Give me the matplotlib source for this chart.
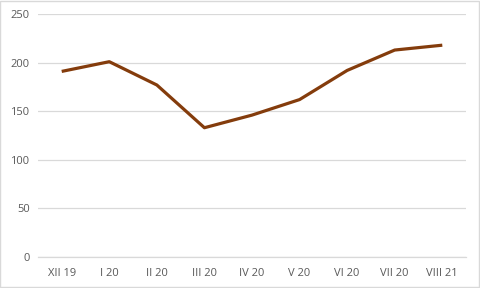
import matplotlib
matplotlib.use("Agg")
import matplotlib.pyplot as plt
from matplotlib.patches import Rectangle

# months and values
months = ["XII 19", "I 20", "II 20", "III 20", "IV 20", "V 20", "VI 20", "VII 20", "VIII 21"]
values = [191, 201, 177, 133, 146, 162, 192, 213, 218]
yticks = [0, 50, 100, 150, 200, 250]

plt.rcParams['font.family'] = ['Open Sans', 'DejaVu Sans']

fig = plt.figure(figsize=(4.8, 2.88), dpi=100)
ax = fig.add_axes([0.079, 0.108, 0.892, 0.843])

x = list(range(len(months)))
ax.plot(x, values, color="#843C0C", linewidth=2.3, solid_capstyle="butt", zorder=3)

ax.set_xlim(-0.5, len(months) - 0.5)
ax.set_ylim(0, 250)
ax.set_yticks(yticks)
ax.set_xticks(x)
ax.set_xticklabels(months)
ax.grid(axis="y", color="#d9d9d9", linewidth=0.9)
ax.set_axisbelow(True)

for s in ["top", "right", "left"]:
    ax.spines[s].set_visible(False)
ax.spines["bottom"].set_color("#d9d9d9")
ax.spines["bottom"].set_linewidth(0.9)
ax.tick_params(length=0, labelsize=8, labelcolor="#595959")
ax.tick_params(axis="x", pad=8)
ax.tick_params(axis="y", pad=6)

# light border around the whole chart
fig.patches.append(Rectangle((0.001, 0.002), 0.997, 0.995, transform=fig.transFigure,
                             fill=False, edgecolor="#d9d9d9", linewidth=1))

fig.savefig("out.png", dpi=100)
